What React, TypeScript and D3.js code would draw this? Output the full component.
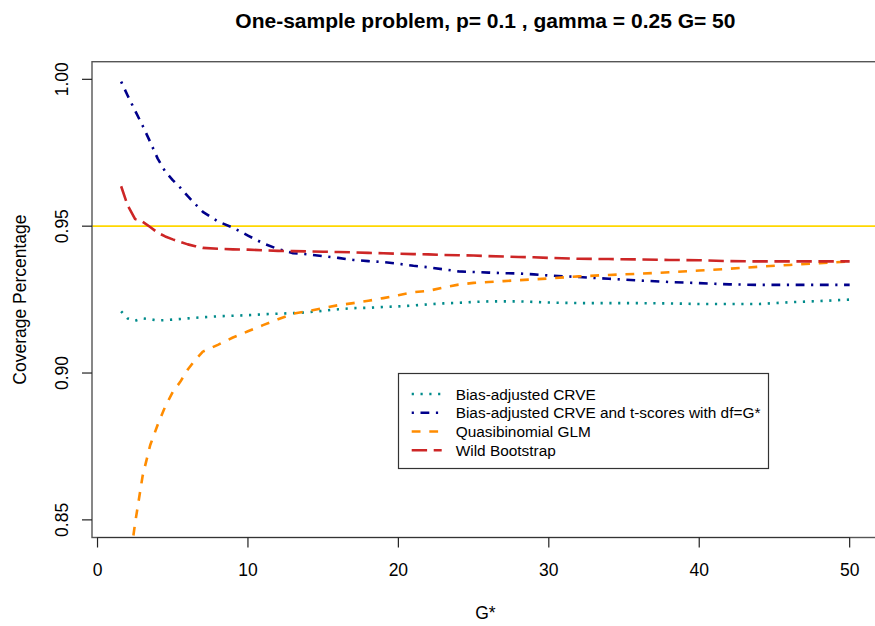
import React from "react";
import * as d3 from "d3";

const G = [1.57, 2, 2.5, 3, 3.5, 4, 4.5, 5, 5.5, 6, 6.5, 7, 8, 9, 10, 11, 12, 13, 14, 15, 16, 17, 18, 19, 20, 21, 22, 23, 24, 25, 26, 27, 28, 29, 30, 32, 34, 36, 38, 40, 42, 44, 46, 48, 50];

const crve = [0.921, 0.9186, 0.9178, 0.9186, 0.9183, 0.9179, 0.918, 0.9182, 0.9184, 0.9186, 0.9188, 0.919, 0.9193, 0.9195, 0.9197, 0.92, 0.9202, 0.9204, 0.9207, 0.9212, 0.9217, 0.9221, 0.9222, 0.9225, 0.9227, 0.923, 0.9234, 0.9237, 0.9239, 0.9242, 0.9244, 0.9244, 0.9244, 0.9242, 0.924, 0.9238, 0.9238, 0.9238, 0.9237, 0.9235, 0.9235, 0.9235, 0.9241, 0.9245, 0.925];

const crveT = [0.9992, 0.9945, 0.9893, 0.9842, 0.9787, 0.973, 0.9686, 0.9657, 0.9631, 0.9602, 0.9575, 0.9549, 0.9516, 0.9495, 0.9468, 0.9442, 0.9422, 0.9408, 0.9404, 0.9398, 0.9392, 0.9385, 0.9381, 0.9378, 0.9372, 0.9365, 0.936, 0.9353, 0.9346, 0.9344, 0.9342, 0.934, 0.9339, 0.9336, 0.9332, 0.9327, 0.9321, 0.9315, 0.931, 0.9306, 0.9302, 0.93, 0.93, 0.93, 0.93];

const quasi = [0.815, 0.83, 0.849, 0.865, 0.8754, 0.8824, 0.8886, 0.8935, 0.897, 0.9012, 0.9045, 0.9073, 0.9096, 0.9121, 0.9142, 0.9163, 0.9183, 0.9202, 0.9211, 0.9221, 0.9231, 0.9238, 0.9246, 0.9255, 0.9265, 0.9275, 0.928, 0.9291, 0.9301, 0.9307, 0.931, 0.9313, 0.9316, 0.9319, 0.9322, 0.9329, 0.9334, 0.9338, 0.9343, 0.9349, 0.9355, 0.9362, 0.9368, 0.9374, 0.938];

const wild = [0.9636, 0.9571, 0.9524, 0.9515, 0.9497, 0.9478, 0.9465, 0.9455, 0.9446, 0.9438, 0.9432, 0.9426, 0.9423, 0.9421, 0.942, 0.9418, 0.9416, 0.9415, 0.9414, 0.9413, 0.9412, 0.9411, 0.9409, 0.9408, 0.9406, 0.9405, 0.9404, 0.9402, 0.9401, 0.94, 0.9398, 0.9397, 0.9395, 0.9394, 0.9392, 0.9389, 0.9388, 0.9387, 0.9385, 0.9384, 0.9381, 0.938, 0.938, 0.938, 0.938];

const xTicks = [0, 10, 20, 30, 40, 50];
const yTicks = [0.85, 0.9, 0.95, 1.0];
const yTickLabels = ["0.85", "0.90", "0.95", "1.00"];
const refLine = 0.95;

const seriesNames = [
  "Bias-adjusted CRVE",
  "Bias-adjusted CRVE and t-scores with df=G*",
  "Quasibinomial GLM",
  "Wild Bootstrap",
];
const seriesValues = [crve, crveT, quasi, wild];
const seriesColors = ["#008B8B", "#00008B", "#FF8C00", "#CD2626"];
const seriesDash = ["2.2 6.6", "2.2 6.6 8.8 6.6", "8.8 8.8", "15.4 6.6"];

const W = 875;
const H = 626;
const FONT = "'Liberation Sans', Arial, Helvetica, sans-serif";

export default function App() {
  const xMin = 1.57, xMax = 50;
  const pad = 0.04 * (xMax - xMin);
  const x = d3.scaleLinear().domain([xMin - pad, xMax + pad]).range([92, 878.8]);
  const y = d3.scaleLinear().domain([0.844, 1.006]).range([537.5, 61.7]);
  const [x0, x1] = x.range();
  const [yb, yt] = y.range();

  const line = d3
    .line<[number, number]>()
    .x((d) => x(d[0]))
    .y((d) => y(d[1]));

  const legX = 398.5, legY = 373.5, legW = 370, legH = 95;
  const rowY = [394, 412.7, 431.5, 450.2];

  return (
    <>
      <style>{`body{margin:0}`}</style>
      <svg width={W} height={H} style={{ display: "block", background: "#fff" }} fontFamily={FONT}>
        <defs>
          <clipPath id="plotclip">
            <rect x={x0} y={yt} width={x1 - x0} height={yb - yt} />
          </clipPath>
        </defs>
        <rect x={0} y={0} width={W} height={H} fill="#fff" />
        {/* title */}
        <text x={(x0 + x1) / 2} y={27.5} textAnchor="middle" fontWeight="bold" fontSize={21} fill="#000">
          One-sample problem, p= 0.1 , gamma = 0.25 G= 50
        </text>
        {/* reference line */}
        <g clipPath="url(#plotclip)">
          <line x1={x0} x2={x1} y1={y(refLine)} y2={y(refLine)} stroke="#FFD700" strokeWidth={1.7} />
          {seriesValues.map((vals, i) => (
            <path
              key={i}
              d={line(G.map((g, j) => [g, vals[j]] as [number, number])) || ""}
              fill="none"
              stroke={seriesColors[i]}
              strokeWidth={2.6}
              strokeDasharray={seriesDash[i]}
              strokeLinejoin="round"
            />
          ))}
        </g>
        {/* box */}
        <rect x={x0} y={yt} width={x1 - x0} height={yb - yt} fill="none" stroke="#555" strokeWidth={1.4} />
        {/* x axis */}
        <line x1={x(xTicks[0])} x2={x(xTicks[xTicks.length - 1])} y1={yb} y2={yb} stroke="#333" strokeWidth={1} />
        {xTicks.map((t) => (
          <g key={t}>
            <line x1={x(t)} x2={x(t)} y1={yb} y2={yb + 10} stroke="#222" strokeWidth={1.2} />
            <text x={x(t)} y={576} textAnchor="middle" fontSize={17.5} fill="#000">
              {t}
            </text>
          </g>
        ))}
        {/* y axis */}
        {yTicks.map((t, i) => (
          <g key={t}>
            <line x1={x0 - 10} x2={x0} y1={y(t)} y2={y(t)} stroke="#222" strokeWidth={1.2} />
            <text
              transform={`translate(68,${y(t)}) rotate(-90)`}
              textAnchor="middle"
              fontSize={17.5}
              fill="#000"
            >
              {yTickLabels[i]}
            </text>
          </g>
        ))}
        <text x={(x0 + x1) / 2} y={619} textAnchor="middle" fontSize={17.5} fill="#000">
          G*
        </text>
        <text transform={`translate(26,${(yt + yb) / 2}) rotate(-90)`} textAnchor="middle" fontSize={17.5} fill="#000">
          Coverage Percentage
        </text>
        {/* legend */}
        <rect x={legX} y={legY} width={legW} height={legH} fill="#fff" stroke="#333" strokeWidth={1.2} />
        {seriesNames.map((n, i) => (
          <g key={n}>
            <line
              x1={411.7}
              x2={441.7}
              y1={rowY[i]}
              y2={rowY[i]}
              stroke={seriesColors[i]}
              strokeWidth={2.6}
              strokeDasharray={seriesDash[i]}
            />
            <text x={455.7} y={rowY[i] + 5.5} fontSize={15.4} fill="#000">
              {n}
            </text>
          </g>
        ))}
      </svg>
    </>
  );
}
